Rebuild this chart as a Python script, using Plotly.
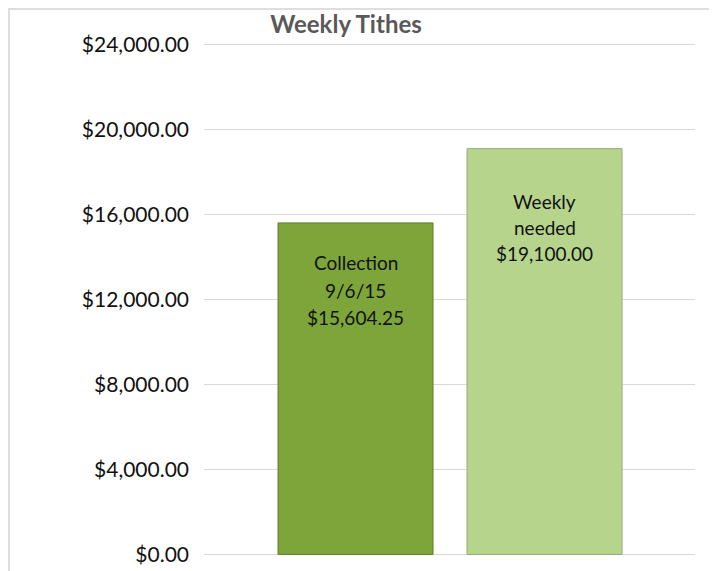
import plotly.graph_objects as go

categories = ["Collection 9/6/15", "Weekly needed"]
values = [15604.25, 19100.00]
labels = [["Collection", "9/6/15", "$15,604.25"], ["Weekly", "needed", "$19,100.00"]]
colors = ["#7ea53a", "#b6d48c"]
edge_colors = ["#5f7d2a", "#93ad6f"]
label_first_offset = [40, 53]   # px below bar top for first label line
label_line_gap = [27.5, 26]
tick_vals = [0, 4000, 8000, 12000, 16000, 20000, 24000]
tick_text = ["$0.00", "$4,000.00", "$8,000.00", "$12,000.00", "$16,000.00", "$20,000.00", "$24,000.00"]

W, H = 717, 571
L, R, T, B = 196, 30, 34, 22
PW, PH = W - L - R, H - T - B

fig = go.Figure()
for i, c in enumerate(categories):
    fig.add_trace(go.Bar(
        x=[i], y=[values[i]], width=0.82,
        marker=dict(color=colors[i], line=dict(color=edge_colors[i], width=1)),
        hoverinfo="skip", showlegend=False,
    ))
    for k, line in enumerate(labels[i]):
        fig.add_annotation(x=i, y=values[i], text=line, showarrow=False,
                           yanchor="middle",
                           yshift=-(label_first_offset[i] + k * label_line_gap[i]),
                           font=dict(family="Lato", size=19, color="#111111"))

# page body has an 8px margin, so the figure is offset by (8, 8)
fig.update_layout(
    width=W, height=H,
    margin=dict(l=L, r=R, t=T, b=B),
    paper_bgcolor="white", plot_bgcolor="white",
    barmode="overlay",
    title=dict(text="<b>Weekly Tithes</b>", x=338/717, xanchor="center", xref="container",
               y=1-17/571, yanchor="middle",
               font=dict(family="Lato", size=24, color="#595959")),
    xaxis=dict(range=[-0.8016, 1.796], showticklabels=False, showgrid=False,
               zeroline=False, showline=False, ticks=""),
    yaxis=dict(range=[-120, 24120], tickvals=tick_vals, ticktext=tick_text,
               showgrid=True, gridcolor="#d9d9d9", gridwidth=1, zeroline=False,
               showline=False, ticks="", ticklabelstandoff=14,
               tickfont=dict(family="Lato", size=21, color="#111111")),
    shapes=[dict(type="rect", xref="paper", yref="paper",
                 x0=(1 - L) / PW, x1=(W + 20 - L) / PW,
                 y0=-(B + 20) / PH, y1=1 + (T - 1) / PH,
                 line=dict(color="#dedede", width=2), fillcolor="rgba(0,0,0,0)", layer="below")],
)

fig.write_html("out.html")
